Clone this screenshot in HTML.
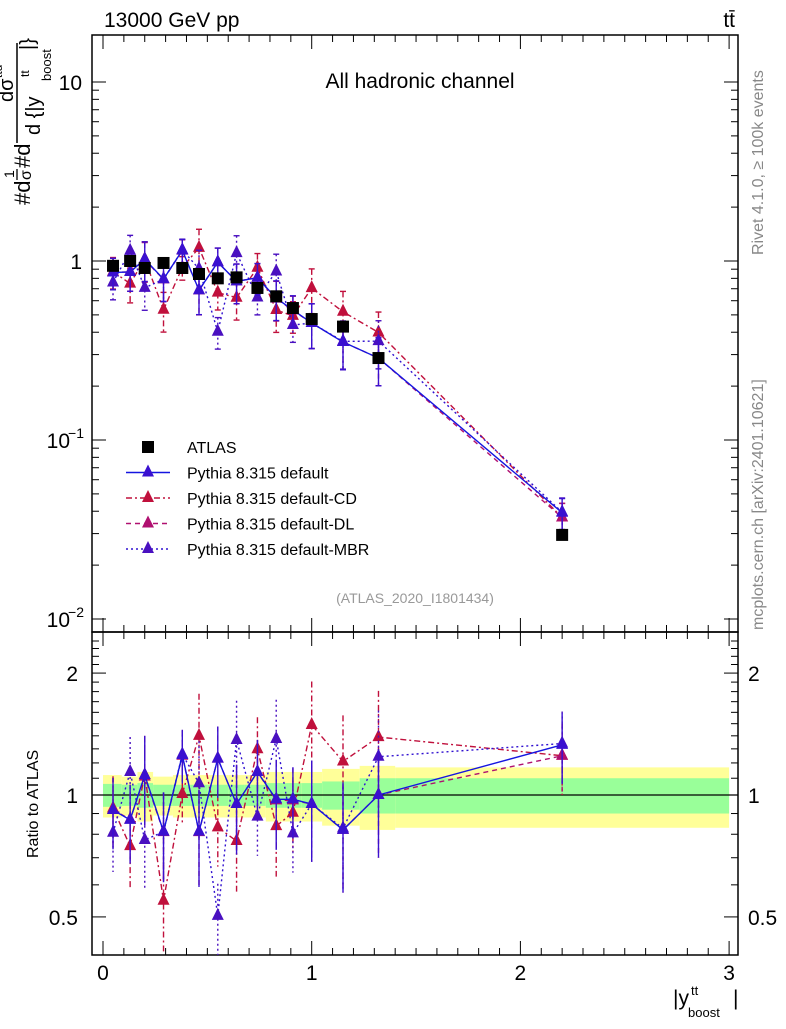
<!DOCTYPE html>
<html><head><meta charset="utf-8"><style>
body{margin:0;background:#fff;font-family:"Liberation Sans",sans-serif}
svg text{font-family:"Liberation Sans",sans-serif}
</style></head><body>
<svg id="c" width="786" height="1024" viewBox="0 0 786 1024" xmlns="http://www.w3.org/2000/svg">
<g transform="translate(0,205) rotate(-90)">
<text x="0" y="30" font-size="22">#d</text>
<text x="27" y="14" font-size="14">1</text>
<line x1="25" x2="36" y1="17" y2="17" stroke="#000" stroke-width="1.3"/>
<text x="25" y="31" font-size="16">σ</text>
<text x="37" y="30" font-size="22">#d</text>
<line x1="62" x2="162" y1="17" y2="17" stroke="#000" stroke-width="1.5"/>
<text x="103" y="13" font-size="20">dσ</text>
<text x="127" y="2" font-size="12">ttd</text>
<text x="70" y="40" font-size="20">d {|y</text>
<text x="128" y="29" font-size="12">tt</text>
<text x="124" y="51" font-size="13">boost</text>
<text x="155" y="34" font-size="20">|}</text>
</g>
</svg>
<script>
const xCenters=[0.048,0.13,0.2,0.29,0.38,0.46,0.55,0.64,0.74,0.83,0.91,1.0,1.15,1.32,2.2];
const binEdges=[0,0.09,0.165,0.24,0.335,0.42,0.5,0.6,0.68,0.78,0.87,0.95,1.05,1.23,1.4,3];
const atlas=[0.94,1.0,0.914,0.975,0.914,0.846,0.80,0.81,0.707,0.635,0.546,0.474,0.43,0.287,0.0295];
const statBand=[0.065,0.06,0.07,0.06,0.06,0.06,0.06,0.06,0.06,0.07,0.07,0.07,0.08,0.1,0.1];
const totBand=[0.12,0.11,0.14,0.11,0.12,0.12,0.12,0.12,0.12,0.14,0.14,0.14,0.16,0.18,0.17];
const rDefault=[0.918,0.868,1.12,0.812,1.255,0.812,1.23,0.95,1.14,0.976,0.976,0.95,0.82,1.0,1.33];
const rCD=[0.927,0.748,1.12,0.548,1.006,1.40,0.832,0.77,1.297,0.838,0.904,1.489,1.21,1.39,1.25];
const rDL=[0.92,0.87,1.11,0.81,1.25,0.81,1.23,0.95,1.14,0.97,0.97,0.95,0.82,1.0,1.25];
const rMBR=[0.807,1.14,0.774,0.812,1.26,1.069,0.503,1.367,0.884,1.375,0.804,0.95,0.827,1.243,1.34];
const relErr=[0.2,0.22,0.25,0.25,0.15,0.27,0.2,0.25,0.2,0.25,0.2,0.28,0.3,0.3,0.2];

const L=92,R=738,T=35,MB=632,RB=955;
const X=v=>103+v*208.7;
const Y=v=>261-Math.log10(v)*179;
const YR=v=>795-Math.log10(v)*405;
const svg=document.getElementById('c');
const NS="http://www.w3.org/2000/svg";
function el(t,a,txt){const e=document.createElementNS(NS,t);for(const k in a)e.setAttribute(k,a[k]);if(txt!==undefined)e.textContent=txt;svg.appendChild(e);return e;}

for(let i=0;i<xCenters.length;i++){
  const x0=X(binEdges[i]),x1=X(binEdges[i+1]);
  const b1=el('rect',{x:x0,y:YR(1+totBand[i]),width:x1-x0,height:YR(1-totBand[i])-YR(1+totBand[i]),fill:'#ffff99'});
  
  
  const b2=el('rect',{x:x0,y:YR(1+statBand[i]),width:x1-x0,height:YR(1-statBand[i])-YR(1+statBand[i]),fill:'#99ff99'});
  
  
}
el('line',{x1:L,x2:R,y1:YR(1),y2:YR(1),stroke:'#000','stroke-width':1.2});

el('rect',{x:L,y:T,width:R-L,height:MB-T,fill:'none',stroke:'#000','stroke-width':1.5,});
el('rect',{x:L,y:MB,width:R-L,height:RB-MB,fill:'none',stroke:'#000','stroke-width':1.5,});

for(let d=-2;d<=1;d++){for(let m=1;m<10;m++){const v=m*Math.pow(10,d);const y=Y(v);if(y<T||y>MB)continue;const len=m==1?14:7;
 el('line',{x1:L,x2:L+len,y1:y,y2:y,stroke:'#000'});el('line',{x1:R-len,x2:R,y1:y,y2:y,stroke:'#000'});}}
el('text',{x:82,y:Y(10)+8,'font-size':21,'text-anchor':'end'},'10');
el('text',{x:82,y:Y(1)+8,'font-size':21,'text-anchor':'end'},'1');
el('text',{x:70,y:Y(0.1)+8,'font-size':21,'text-anchor':'end'},'10');el('text',{x:84,y:Y(0.1)-2,'font-size':14,'text-anchor':'end'},'−1');
el('text',{x:70,y:Y(0.01)+8,'font-size':21,'text-anchor':'end'},'10');el('text',{x:84,y:Y(0.01)-2,'font-size':14,'text-anchor':'end'},'−2');

for(let v=0.3;v<=2.5;v+=0.1){const y=YR(v);if(y<MB||y>RB)continue;const big=Math.abs(v-1)<1e-6||Math.abs(v-2)<1e-6||Math.abs(v-0.5)<1e-6;const len=big?14:7;
 el('line',{x1:L,x2:L+len,y1:y,y2:y,stroke:'#000'});el('line',{x1:R-len,x2:R,y1:y,y2:y,stroke:'#000'});}
[["2",2],["1",1],["0.5",0.5]].forEach(([s,v])=>{el('text',{x:78,y:YR(v)+8,'font-size':21,'text-anchor':'end'},s);el('text',{x:748,y:YR(v)+8,'font-size':21},s);});

for(let v=0;v<=3.001;v+=0.1){const x=X(v);const big=Math.abs(v-Math.round(v))<1e-6;const len=big?14:7;
 [MB,RB].forEach(b=>el('line',{x1:x,x2:x,y1:b,y2:b-len,stroke:'#000'}));
 [T,MB].forEach(b=>el('line',{x1:x,x2:x,y1:b,y2:b+len,stroke:'#000'}));}
[0,1,2,3].forEach(v=>el('text',{x:X(v),y:980,'font-size':21,'text-anchor':'middle'},String(v)));

el('text',{x:104,y:27,'font-size':21,},'13000 GeV pp');
el('text',{x:735,y:27,'font-size':21,'text-anchor':'end',},'tt̄');
el('text',{x:420,y:88,'font-size':21,'text-anchor':'middle',},'All hadronic channel');
el('text',{x:415,y:603,'font-size':14,fill:'#999','text-anchor':'middle',},'(ATLAS_2020_I1801434)');
el('text',{x:0,y:0,'font-size':16,fill:'#888',transform:'translate(763,255) rotate(-90)',},'Rivet 4.1.0, ≥ 100k events');
el('text',{x:0,y:0,'font-size':16,fill:'#888',transform:'translate(763,630) rotate(-90)',},'mcplots.cern.ch [arXiv:2401.10621]');
el('text',{x:0,y:0,'font-size':16,transform:'translate(38,858) rotate(-90)',},'Ratio to ATLAS');
el('text',{x:673,y:1005,'font-size':21,},'|y');
el('text',{x:691,y:995,'font-size':13},'tt');
el('text',{x:688,y:1017,'font-size':13},'boost');
el('text',{x:733,y:1005,'font-size':21},'|');

function tri(x,y,c,name){const p=el('polygon',{points:`${x},${y-8} ${x-6},${y+4} ${x+6},${y+4}`,fill:c});
 
 }

const series=[
 {r:rCD,c:'#c0103c',line:'#c0103c',dash:'6,3,2,3',name:'cd'},
 {r:rDL,c:'#b01070',line:'#b01070',dash:'5,4',name:'dl'},
 {r:rMBR,c:'#4a10c0',line:'#3010d0',dash:'2,3',name:'mbr'},
 {r:rDefault,c:'#3a10d0',line:'#1515e0',dash:'',name:'default'},
];
series.forEach(s=>{
 const mv=s.r.map((r,i)=>r*atlas[i]);
 el('polyline',{points:mv.map((v,i)=>X(xCenters[i])+','+Y(v)).join(' '),fill:'none',stroke:s.line,'stroke-width':1.4,'stroke-dasharray':s.dash});
 el('polyline',{points:s.r.map((v,i)=>X(xCenters[i])+','+YR(v)).join(' '),fill:'none',stroke:s.line,'stroke-width':1.4,'stroke-dasharray':s.dash});
 mv.forEach((v,i)=>{const x=X(xCenters[i]),e=relErr[i];
  el('line',{x1:x,x2:x,y1:Y(v*(1+e)),y2:Y(v*(1-e)),stroke:s.c,'stroke-width':1.4,'stroke-dasharray':s.dash});
  el('line',{x1:x-3,x2:x+3,y1:Y(v*(1+e)),y2:Y(v*(1+e)),stroke:s.c,'stroke-width':1.4});
  el('line',{x1:x-3,x2:x+3,y1:Y(v*(1-e)),y2:Y(v*(1-e)),stroke:s.c,'stroke-width':1.4});
  tri(x,Y(v),s.c,'marker-'+s.name);});
 s.r.forEach((v,i)=>{const x=X(xCenters[i]),e=relErr[i];
  el('line',{x1:x,x2:x,y1:Math.max(MB,YR(v*(1+e))),y2:Math.min(RB,YR(v*(1-e))),stroke:s.c,'stroke-width':1.4,'stroke-dasharray':s.dash});
  tri(x,YR(v),s.c,'ratio-marker-'+s.name);});
});
atlas.forEach((v,i)=>{const x=X(xCenters[i]);
 const r=el('rect',{x:x-6,y:Y(v)-6,width:12,height:12,fill:'#000'});
 
 
 el('line',{x1:x,x2:x,y1:Y(v*1.06),y2:Y(v*0.94),stroke:'#000'});});

const leg=[["ATLAS",null,'',''],["Pythia 8.315 default",'#3a10d0','#1515e0',''],["Pythia 8.315 default-CD",'#c0103c','#c0103c','6,3,2,3'],["Pythia 8.315 default-DL",'#b01070','#b01070','5,4'],["Pythia 8.315 default-MBR",'#4a10c0','#3010d0','2,3']];
leg.forEach((l,i)=>{const y=447+i*25.5;
 if(!l[1]){el('rect',{x:142,y:y-6,width:12,height:12,fill:'#000'});}
 else{el('line',{x1:126,x2:170,y1:y,y2:y,stroke:l[2],'stroke-width':1.4,'stroke-dasharray':l[3]});tri(148,y,l[1],'legend-marker');}
 const tx=el('text',{x:187,y:y+6,'font-size':16},l[0]);
 
 
});
</script>
</body></html>
